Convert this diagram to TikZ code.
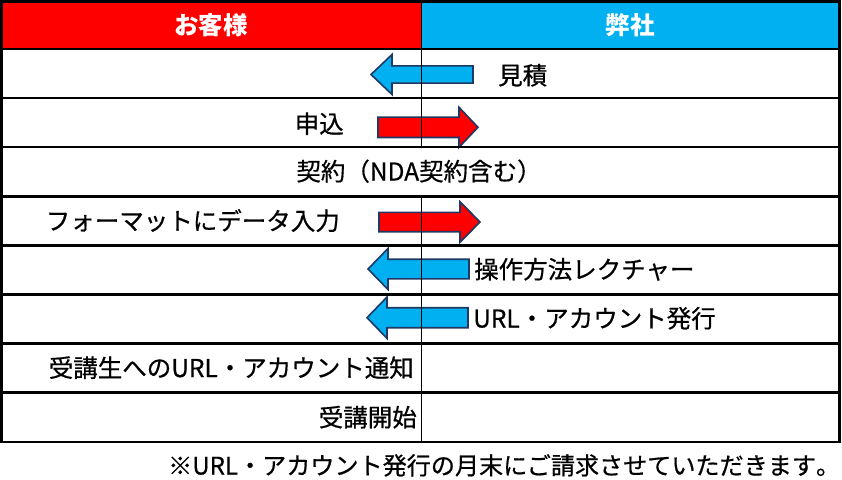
\documentclass[tikz,border=0pt]{standalone}
\usepackage{fontspec}
\setmainfont{Noto Sans CJK JP}
\newfontfamily\medfont{Noto Sans CJK JP}[FakeBold=0.6]
\definecolor{cred}{HTML}{FF0000}
\definecolor{cblue}{HTML}{00B0F0}
\definecolor{cnavy}{HTML}{1F3864}
\newcommand\LeftArr[6]{%
  \filldraw[arrowline, fill=cblue] (#1,#4) -- (#2,#4-#6) -- (#2,#4-#5) -- (#3,#4-#5)
    -- (#3,#4+#5) -- (#2,#4+#5) -- (#2,#4+#6) -- cycle;}
\newcommand\RightArr[6]{%
  \filldraw[arrowline, fill=cred] (#1,#4) -- (#2,#4-#6) -- (#2,#4-#5) -- (#3,#4-#5)
    -- (#3,#4+#5) -- (#2,#4+#5) -- (#2,#4+#6) -- cycle;}
\begin{document}
\begin{tikzpicture}[x=1pt,y=-1pt,
  arrowline/.style={draw=cnavy, line width=1.6pt, line join=miter},
  gridline/.style={line width=2.5pt, line cap=rect},
  divline/.style={line width=1pt},
  txt/.style={inner sep=0pt, text height=21pt, text depth=3pt, font=\medfont\fontsize{24.5}{28}\selectfont},
  headtxt/.style={inner sep=0pt, text height=21pt, text depth=3pt, text=white, font=\fontsize{24.5}{28}\selectfont\bfseries},
  notetxt/.style={inner sep=0pt, text height=21pt, text depth=3pt, font=\medfont\fontsize{24.1}{28}\selectfont},
]
\useasboundingbox (0,0) rectangle (842,479);
\fill[white] (0,0) rectangle (842,479);
% header
\fill[cred] (1.5,1.5) rectangle (421,49);
\fill[cblue] (421,1.5) rectangle (839.5,49);
\node[headtxt] (hc) at (211,25.5) {お客様};
\node[headtxt] (hs) at (630,25.5) {弊社};
% arrows
\LeftArr{371}{392}{473}{74.5}{8.6}{20}
\RightArr{478}{459}{378}{127.3}{10.2}{20}
\RightArr{480}{460}{379}{222}{9.7}{20.3}
\LeftArr{368}{388}{469}{269}{9.8}{20.5}
\LeftArr{367}{387}{468}{317.7}{10}{20.7}
% grid
\foreach \yy in {49,98.1,147.2,196.3,245.4,294.5,343.6,392.7}
  \draw[gridline] (1.5,\yy) -- (839.5,\yy);
\draw[gridline] (1.5,1.5) rectangle (839.5,441.8);
\draw[divline] (421,1.5) -- (421,147.2);
\draw[divline] (421,196.3) -- (421,441.8);
% texts
\node[txt, anchor=west] (t1) at (498,75.5) {見積};
\node[txt, anchor=east] (t2) at (344,124) {申込};
\node[txt] (t3) at (419,171.5) {契約（NDA契約含む）};
\node[txt, anchor=east] (t4) at (340,221) {フォーマットにデータ入力};
\node[txt, anchor=west] (t5) at (474,269.5) {操作方法レクチャー};
\node[txt, anchor=west] (t6) at (473,318.5) {URL・アカウント発行};
\node[txt, anchor=east] (t7) at (414,368) {受講生へのURL・アカウント通知};
\node[txt, anchor=east] (t8) at (417,417.5) {受講開始};
\node[notetxt, anchor=west] (fn) at (168,465.5) {※URL・アカウント発行の月末にご請求させていただきます\makebox[0.5em][l]{。}};
\end{tikzpicture}
\end{document}
